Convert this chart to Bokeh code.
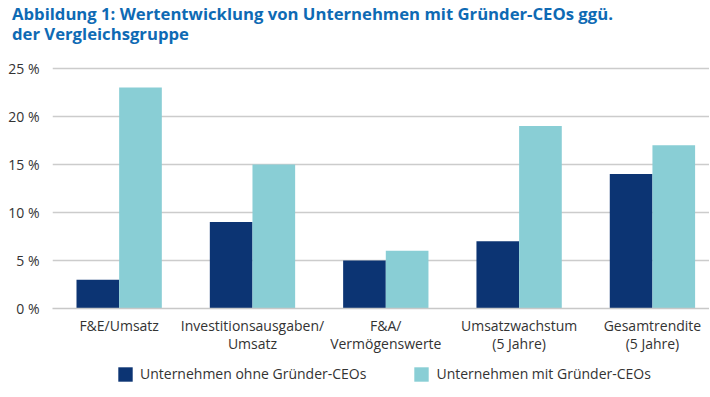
from bokeh.plotting import figure
from bokeh.layouts import column
from bokeh.models import Range1d, FixedTicker, Legend, LegendItem, ColumnDataSource, Div
from bokeh.transform import dodge
from bokeh.embed import file_html
from bokeh.resources import INLINE

title_lines = ["Abbildung 1: Wertentwicklung von Unternehmen mit Gründer-CEOs ggü.",
               "der Vergleichsgruppe"]
categories = ["F&E/Umsatz", "Investitionsausgaben/\nUmsatz", "F&A/\nVermögenswerte",
              "Umsatzwachstum\n(5 Jahre)", "Gesamtrendite\n(5 Jahre)"]
ohne = [3, 9, 5, 7, 14]
mit = [23, 15, 6, 19, 17]
y_ticks = [0, 5, 10, 15, 20, 25]
series_names = ["Unternehmen ohne Gründer-CEOs", "Unternehmen mit Gründer-CEOs"]

DARK = "#0c3473"
LIGHT = "#89ced5"
FONT = "Open Sans"
TXT = "#333333"

src = ColumnDataSource(dict(x=list(range(len(categories))), ohne=ohne, mit=mit))

head = Div(text="<br>".join(title_lines), width=697, height=40, margin=(4, 0, 0, 12),
           styles={"font-family": "'Open Sans'", "font-weight": "bold",
                   "font-size": "16.7px", "line-height": "20px", "color": "#0e6ab4",
                   "white-space": "nowrap"})

p = figure(frame_width=657, frame_height=245, output_backend="svg", toolbar_location=None,
           x_range=Range1d(-0.5, 4.428), y_range=Range1d(0, 25.5),
           min_border_left=52, min_border_right=0, min_border_top=19, min_border_bottom=48)

p.vbar(x=dodge("x", -0.16), top="ohne", width=0.32, source=src,
       fill_color=DARK, line_color=None)
p.vbar(x=dodge("x", 0.16), top="mit", width=0.32, source=src,
       fill_color=LIGHT, line_color=None)

p.outline_line_color = None
p.xgrid.grid_line_color = None
p.ygrid.grid_line_color = "#cccccc"
p.ygrid.grid_line_width = 1.3
p.ygrid.ticker = FixedTicker(ticks=y_ticks)

p.yaxis.ticker = FixedTicker(ticks=y_ticks)
p.yaxis.major_label_overrides = {v: f"{v} %" for v in y_ticks}
p.yaxis.axis_line_color = None
p.yaxis.major_tick_line_color = None
p.yaxis.minor_tick_line_color = None
p.yaxis.major_label_text_font = FONT
p.yaxis.major_label_text_font_size = "14px"
p.yaxis.major_label_text_color = TXT
p.yaxis.major_label_standoff = 7

p.xaxis.ticker = FixedTicker(ticks=list(range(len(categories))))
p.xaxis.major_label_overrides = {i: c for i, c in enumerate(categories)}
p.xaxis.axis_line_color = "#c8c8c8"
p.xaxis.axis_line_width = 1.3
p.xaxis.major_tick_line_color = None
p.xaxis.minor_tick_line_color = None
p.xaxis.major_label_text_font = FONT
p.xaxis.major_label_text_font_size = "14px"
p.xaxis.major_label_text_color = TXT
p.xaxis.major_label_text_line_height = 0.95
p.xaxis.major_label_standoff = 1

# legend strip below the chart
q = figure(width=709, height=32, output_backend="svg", toolbar_location=None,
           x_range=Range1d(-0.5, 4.428), y_range=Range1d(1000, 1001),
           x_axis_location=None, y_axis_location=None, min_border=0)
q.grid.grid_line_color = None
q.outline_line_color = None
l1 = q.vbar(x=dodge("x", -0.16), top="ohne", width=0.32, source=src,
            fill_color=DARK, line_color=None)
l2 = q.vbar(x=dodge("x", 0.16), top="mit", width=0.32, source=src,
            fill_color=LIGHT, line_color=None)
legend = Legend(items=[LegendItem(label=series_names[0], renderers=[l1]),
                       LegendItem(label=series_names[1], renderers=[l2])],
                orientation="horizontal", location=(64, 5),
                glyph_width=18, glyph_height=18, label_text_font=FONT,
                label_text_font_size="14px", label_text_color=TXT,
                spacing=46, border_line_color=None, background_fill_alpha=0,
                label_standoff=6, margin=0, padding=0)
q.add_layout(legend, "center")

open("out.html", "w").write(file_html(column(head, p, q, spacing=0), INLINE))
